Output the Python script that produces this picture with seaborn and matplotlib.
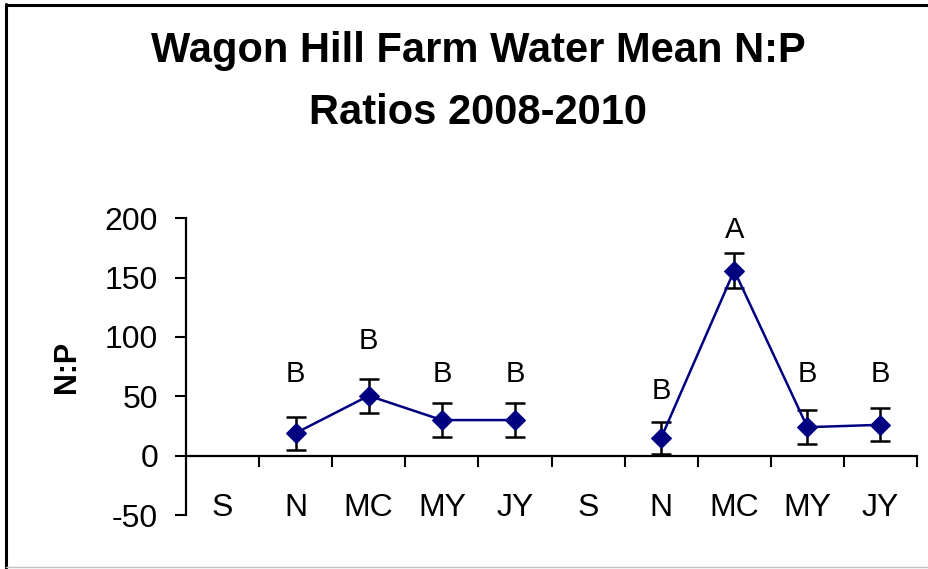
import matplotlib
matplotlib.use("Agg")
import matplotlib.pyplot as plt
from matplotlib.lines import Line2D
from matplotlib.ticker import FixedLocator, NullFormatter
import numpy as np
import pandas as pd
import seaborn as sns

# Sampling months, shown for each of the two years
months = ["S", "N", "MC", "MY", "JY"]
tick_labels = months + months

# Mean N:P ratios and their standard errors (no September samples)
year1_pos = [1, 2, 3, 4]
year1_mean = [19, 50.5, 30, 30]
year1_err = [14, 14.5, 14.5, 14.5]

year2_pos = [6, 7, 8, 9]
year2_mean = [15, 156, 24, 26]
year2_err = [13.5, 14.5, 14.3, 14]

# Significance groupings written above each point
year1_letters = ["B", "B", "B", "B"]
year2_letters = ["B", "A", "B", "B"]
year1_letter_y = [62, 89.5, 62, 62]
year2_letter_y = [48, 183, 62, 62]

df = pd.DataFrame({
    "pos": year1_pos + year2_pos,
    "mean": year1_mean + year2_mean,
    "err": year1_err + year2_err,
    "year": ["y1"] * 4 + ["y2"] * 4,
})

sns.set_style("white")
plt.rcParams["font.family"] = ["Liberation Sans", "DejaVu Sans"]
plt.rcParams["axes.unicode_minus"] = False
for key in ("text.color", "axes.labelcolor", "xtick.color", "ytick.color"):
    plt.rcParams[key] = "black"

navy = "#000080"
fig = plt.figure(figsize=(9.29, 5.69), dpi=100)
ax = fig.add_axes([0.2002, 0.0949, 0.7869, 0.5214])

ax.errorbar(df["pos"], df["mean"], yerr=df["err"], fmt="none", ecolor="black",
            elinewidth=1.8, capsize=7, capthick=1.8, zorder=2)
sns.lineplot(data=df, x="pos", y="mean", units="year", estimator=None,
             color=navy, linewidth=1.8, marker="D", markersize=10,
             markeredgecolor=navy, markerfacecolor=navy, ax=ax, zorder=3,
             legend=False)

for pos, lab, ly in zip(year1_pos + year2_pos,
                        year1_letters + year2_letters,
                        year1_letter_y + year2_letter_y):
    ax.text(pos, ly, lab, ha="center", va="baseline", fontsize=21,
            color="black")

ax.set_xlim(-0.5, 9.5)
ax.set_ylim(-50, 200)
ax.set_yticks([-50, 0, 50, 100, 150, 200])
ax.set_xticks(range(len(tick_labels)))
ax.set_xticklabels(tick_labels)
ax.xaxis.set_minor_locator(FixedLocator(np.arange(0.5, 10, 1.0)))
ax.xaxis.set_minor_formatter(NullFormatter())

ax.tick_params(axis="y", which="major", direction="out", length=8, width=1.5,
               pad=12, labelsize=23, color="black", labelcolor="black",
               left=True)
ax.tick_params(axis="x", which="major", length=0, pad=27, labelsize=23,
               labelcolor="black", bottom=True)
ax.tick_params(axis="x", which="minor", direction="out", length=8, width=1.5,
               color="black", bottom=True)

ax.spines["top"].set_visible(False)
ax.spines["right"].set_visible(False)
ax.spines["bottom"].set_position(("data", 0))
for s in ("left", "bottom"):
    ax.spines[s].set_linewidth(1.6)
    ax.spines[s].set_color("black")

ax.set_xlabel("")
ax.set_ylabel("N:P", fontsize=22, fontweight="bold", color="black")
ax.yaxis.set_label_coords(-0.142, 0.5)

fig.text(0.5145, 0.8907, "Wagon Hill Farm Water Mean N:P", ha="center",
         va="baseline", fontsize=30, fontweight="bold", color="black")
fig.text(0.5145, 0.7814, "Ratios 2008-2010", ha="center",
         va="baseline", fontsize=30, fontweight="bold", color="black")

# Outer frame: black along top and left, light grey along the bottom
fig.add_artist(Line2D([6 / 929, 1], [1 - 5 / 569, 1 - 5 / 569],
                      transform=fig.transFigure, color="black", linewidth=2.2))
fig.add_artist(Line2D([6.5 / 929, 6.5 / 929], [0, 1 - 4 / 569],
                      transform=fig.transFigure, color="black", linewidth=2.2))
fig.add_artist(Line2D([6 / 929, 1], [1 - 567 / 569, 1 - 567 / 569],
                      transform=fig.transFigure, color="#c0c0c0", linewidth=1))

fig.savefig("out.png", dpi=100)
